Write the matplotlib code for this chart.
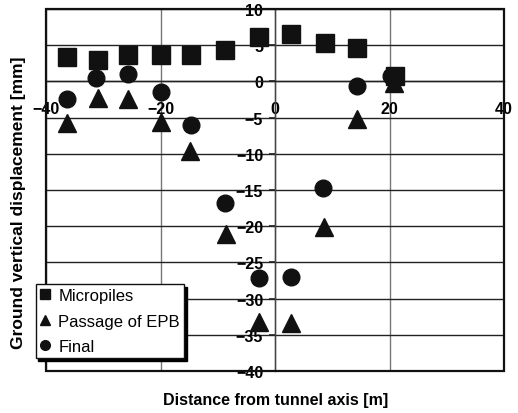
import numpy as np
import matplotlib
matplotlib.use("Agg")
import matplotlib.pyplot as plt
from matplotlib.patches import Rectangle


# values (distance [m], displacement [mm])
dist_micropiles = [-36.4, -30.9, -25.6, -20.0, -14.7, -8.8, -2.8, 2.8, 8.7, 14.4, 20.9]
micropiles = [3.4, 2.9, 3.6, 3.6, 3.6, 4.4, 6.2, 6.5, 5.3, 4.6, 0.7]

dist_epb = [-36.4, -31.0, -25.6, -20.0, -14.8, -8.6, -2.8, 2.8, 8.5, 14.4, 20.8]
epb = [-5.7, -2.3, -2.4, -5.6, -9.6, -21.1, -33.3, -33.4, -20.1, -5.2, -0.2]

dist_final = [-36.4, -31.2, -25.6, -20.0, -14.7, -8.8, -2.75, 2.8, 8.4, 14.3, 20.2]
final = [-2.4, 0.5, 1.0, -1.5, -6.0, -16.8, -27.1, -27.0, -14.7, -0.6, 0.8]

x_ticks = [-40, -20, 0, 20, 40]
y_ticks = list(range(-40, 11, 5))

plt.rcParams['font.family'] = ['Liberation Sans', 'DejaVu Sans']

fig = plt.figure(figsize=(5.18, 4.14), dpi=100)
ax = fig.add_axes([46/518, 42/414, 458/518, 362/414])

ax.plot(dist_micropiles, micropiles, linestyle='none', marker='s', ms=12.5,
        color='#111111', label="Micropiles", zorder=5)
ax.plot(dist_epb, epb, linestyle='none', marker='^', ms=13,
        color='#111111', label="Passage of EPB", zorder=4)
ax.plot(dist_final, final, linestyle='none', marker='o', ms=12,
        color='#111111', label="Final", zorder=3)

ax.set_xlim(-40, 40)
ax.set_ylim(-40, 10)
ax.set_xticks(x_ticks)
ax.set_yticks(y_ticks)

# axes cross at the origin, frame drawn separately
ax.spines['left'].set_position(('data', 0))
ax.spines['bottom'].set_position(('data', 0))
ax.spines['left'].set_color('#444444')
ax.spines['left'].set_linewidth(1.0)
ax.spines['bottom'].set_color('#222222')
ax.spines['bottom'].set_linewidth(1.0)
ax.spines['top'].set_visible(False)
ax.spines['right'].set_visible(False)
ax.add_patch(Rectangle((0, 0), 1, 1, transform=ax.transAxes, fill=False,
                       lw=1.6, edgecolor='#111111', clip_on=False, zorder=6))

ax.set_axisbelow(True)
ax.yaxis.grid(True, color='#222222', lw=1.0)
ax.xaxis.grid(True, color='#777777', lw=1.0)

ax.tick_params(axis='y', direction='out', length=4.5, width=1.2, pad=4,
               color='#222222', labelsize=11.5)
ax.tick_params(axis='x', length=0, pad=14, labelsize=11.5)
for lbl in ax.get_xticklabels() + ax.get_yticklabels():
    lbl.set_fontweight('bold')

ax.set_xlabel("Distance from tunnel axis [m]", fontsize=11.5, fontweight='bold')
ax.xaxis.set_label_coords(0.502, -0.058)
ax.set_ylabel("Ground vertical displacement [mm]", fontsize=12.5, fontweight='bold')
ax.yaxis.set_label_coords(-0.043, 0.467)

leg = ax.legend(loc='upper left', bbox_to_anchor=(-0.0225, 0.2403),
                fontsize=12, markerscale=0.58, handlelength=0.6,
                handletextpad=0.5, borderpad=0.25, labelspacing=0.62,
                borderaxespad=0, fancybox=False, framealpha=1,
                shadow={'color': 'black', 'alpha': 1})
leg.get_frame().set_edgecolor('#111111')
leg.get_frame().set_linewidth(1.0)
leg.set_zorder(10)

plt.savefig("out.png", dpi=100)
plt.close()
